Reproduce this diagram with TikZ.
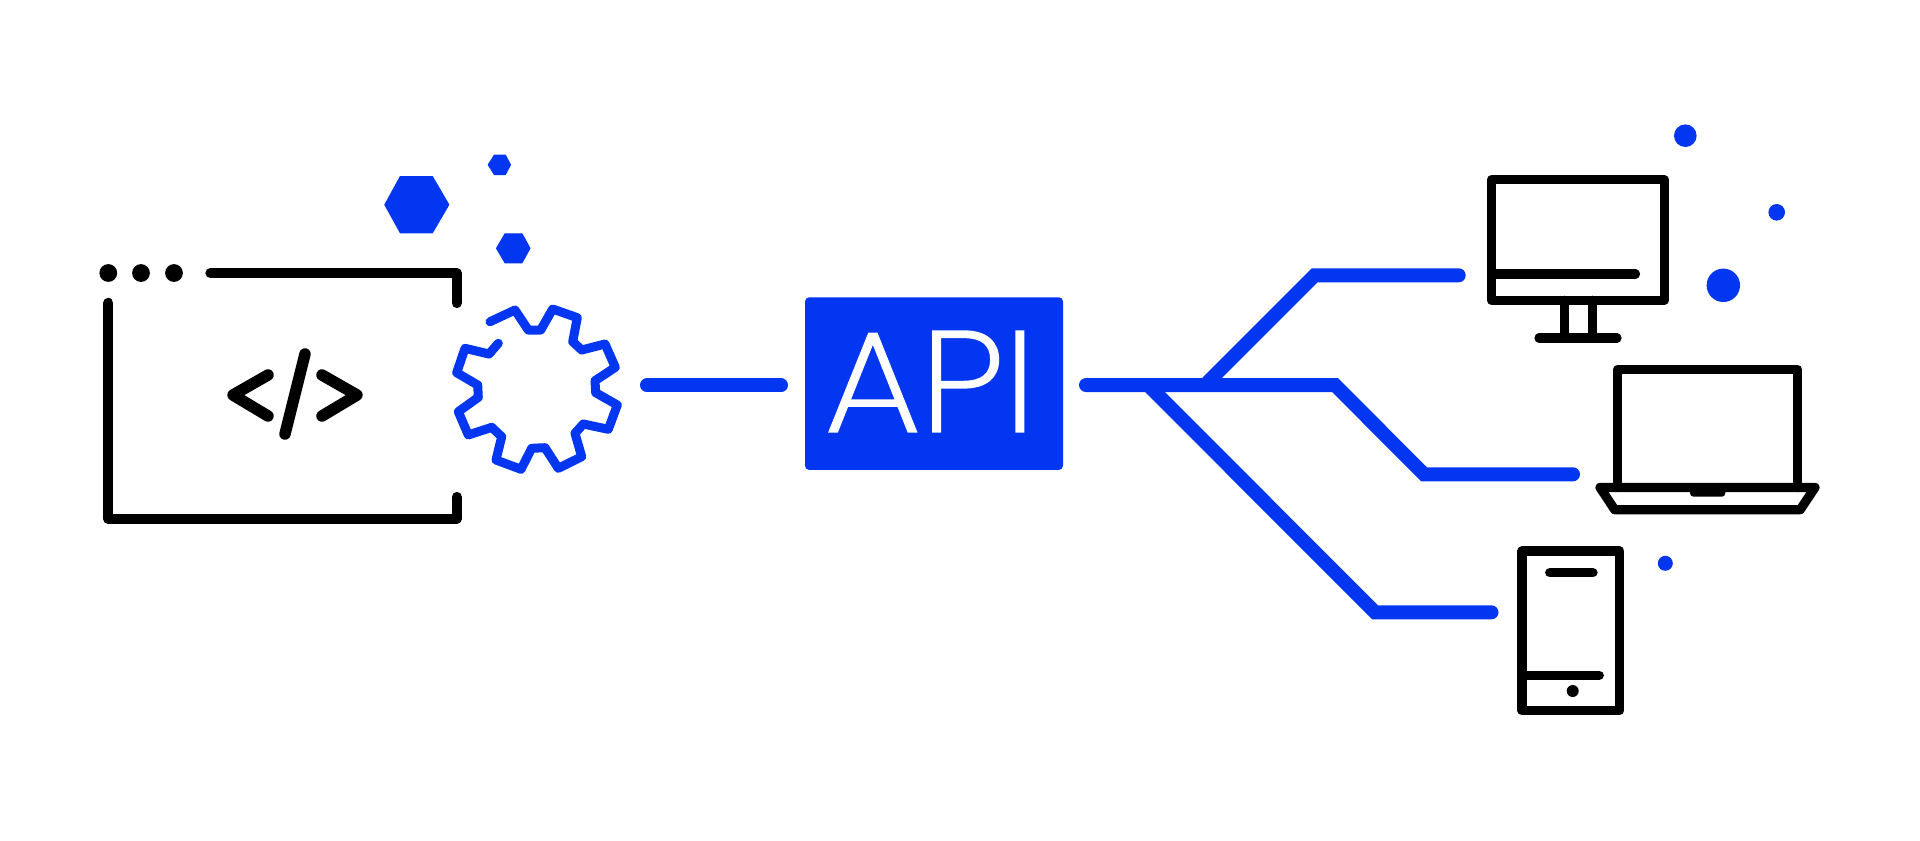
\documentclass[tikz,border=0pt]{standalone}
\usepackage{fontspec}
\newfontfamily\apifont{Poppins}[UprightFont=* ExtraLight,FakeStretch=1.07,FakeBold=1.5]
\definecolor{apiblue}{HTML}{0336F0}
\tikzset{
  pxw/.style={line width=#1*1.4226pt},
  inkline/.style={draw=black,pxw=10.3,line cap=round,line join=round},
  devline/.style={draw=black,pxw=9.2,line cap=round,line join=round},
  codeline/.style={draw=black,pxw=11.5,line cap=round,line join=round},
  gearline/.style={draw=apiblue,pxw=9,line cap=round,line join=round},
  wire/.style={draw=apiblue,pxw=14,line cap=round,line join=miter},
  hexa/.style={fill=apiblue,draw=apiblue,pxw=1,line join=round},
  apibox/.style={fill=apiblue,rounded corners=6pt,minimum width=258*1.4226pt,minimum height=172.7*1.4226pt,inner sep=0pt},
  apilabel/.style={text=white,inner sep=0pt,anchor=base,font=\apifont\fontsize{203pt}{203pt}\selectfont}
}
\begin{document}
\begin{tikzpicture}[x=0.05cm,y=-0.05cm]
\useasboundingbox[fill=white] (0,0) rectangle (1920,840);
% window
\fill (108.3,273) circle (8.9) (141,273) circle (8.9) (174,273) circle (8.9);
\draw[inkline] (210.5,273) -- (456.7,273) -- (456.7,303);
\draw[inkline] (108.3,303) -- (108.3,518.7) -- (456.7,518.7) -- (456.7,497);
% code symbol
\draw[codeline] (268,375) -- (233,395) -- (268,416);
\draw[codeline] (305,354) -- (285,434);
\draw[codeline] (322,375) -- (357,395) -- (322,416);
% gear
\draw[gearline] (490,321.7) -- (515,310) -- (528.3,330) -- (540.7,330) -- (552.7,309) -- (577.3,317.7) -- (572.7,341.7) -- (581.7,350) -- (605,344) -- (615.3,367.3) -- (595,380.7) -- (595.7,392.7) -- (617.3,405) -- (608.3,429.3) -- (583.3,424) -- (575,433.3) -- (581.7,456.7) -- (558.3,468.3) -- (545,447.7) -- (531.7,448.3) -- (521,469.3) -- (496,460) -- (501.7,436.7) -- (491.7,427.3) -- (468.3,435) -- (458.3,411.7) -- (478.3,397.3) -- (477.7,385) -- (456.7,372.7) -- (465,348.3) -- (489,354) -- (498.3,343.3);
% hexagons
\path[hexa] (384.8,204.7) -- (400.3,176.5) -- (432.4,176.5) -- (448.8,204.7) -- (432.4,232.8) -- (400.3,232.8) -- cycle;
\path[hexa] (488.2,164.8) -- (494.3,155.2) -- (505.4,155.2) -- (510.5,164.8) -- (505.4,174.5) -- (494.3,174.5) -- cycle;
\path[hexa] (496.5,248.3) -- (505,233.8) -- (522,233.8) -- (530,248.3) -- (522,262.8) -- (505,262.8) -- cycle;
% API
\node[apibox] (api) at (934,383.6) {};
\node[apilabel] (apitext) at (930.5,431.5) {API};
% wires
\coordinate (gearout) at (647,385.3);
\coordinate (apiin) at (781,385.3);
\draw[wire] (gearout) -- (apiin);
\coordinate (apiout) at (1086,385);
\coordinate (toDesktop) at (1458.7,275.3);
\coordinate (toLaptop) at (1573,474.3);
\coordinate (toPhone) at (1491.5,612.3);
\draw[wire] (apiout) -- (1335,385) -- (1424,474.3) -- (toLaptop);
\draw[wire] (1208,382) -- (1314.7,275.3) -- (toDesktop);
\draw[wire] (1150,387) -- (1375,612.3) -- (toPhone);
% desktop
\draw[devline] (1491.5,179.7) rectangle (1664.3,300.3);
\draw[devline] (1491.5,274) -- (1635.5,274);
\draw[devline] (1564.8,300.3) -- (1564.8,338) (1592.3,300.3) -- (1592.3,338);
\draw[devline] (1539,338) -- (1617,338);
\fill[apiblue] (1685.3,135.7) circle (11.3) (1776.7,212.3) circle (8.3) (1723.3,285.3) circle (16.7);
% laptop
\draw[devline] (1617.3,487.5) -- (1617.3,369.7) -- (1797.8,369.7) -- (1797.8,487.5);
\draw[devline] (1600,487.5) -- (1815,487.5) -- (1800.2,509.7) -- (1614.7,509.7) -- cycle;
\fill[rounded corners=5pt] (1690,487) -- (1690,496.7) -- (1725.3,496.7) -- (1725.3,487) -- cycle;
% phone
\draw[devline] (1522,551) rectangle (1619.7,710.7);
\draw[devline] (1549.7,572.7) -- (1593,572.7);
\draw[devline] (1522,675.3) -- (1599.3,675.3);
\fill (1572.7,691) circle (6);
\fill[apiblue] (1665.3,563.3) circle (7.5);
\end{tikzpicture}
\end{document}
